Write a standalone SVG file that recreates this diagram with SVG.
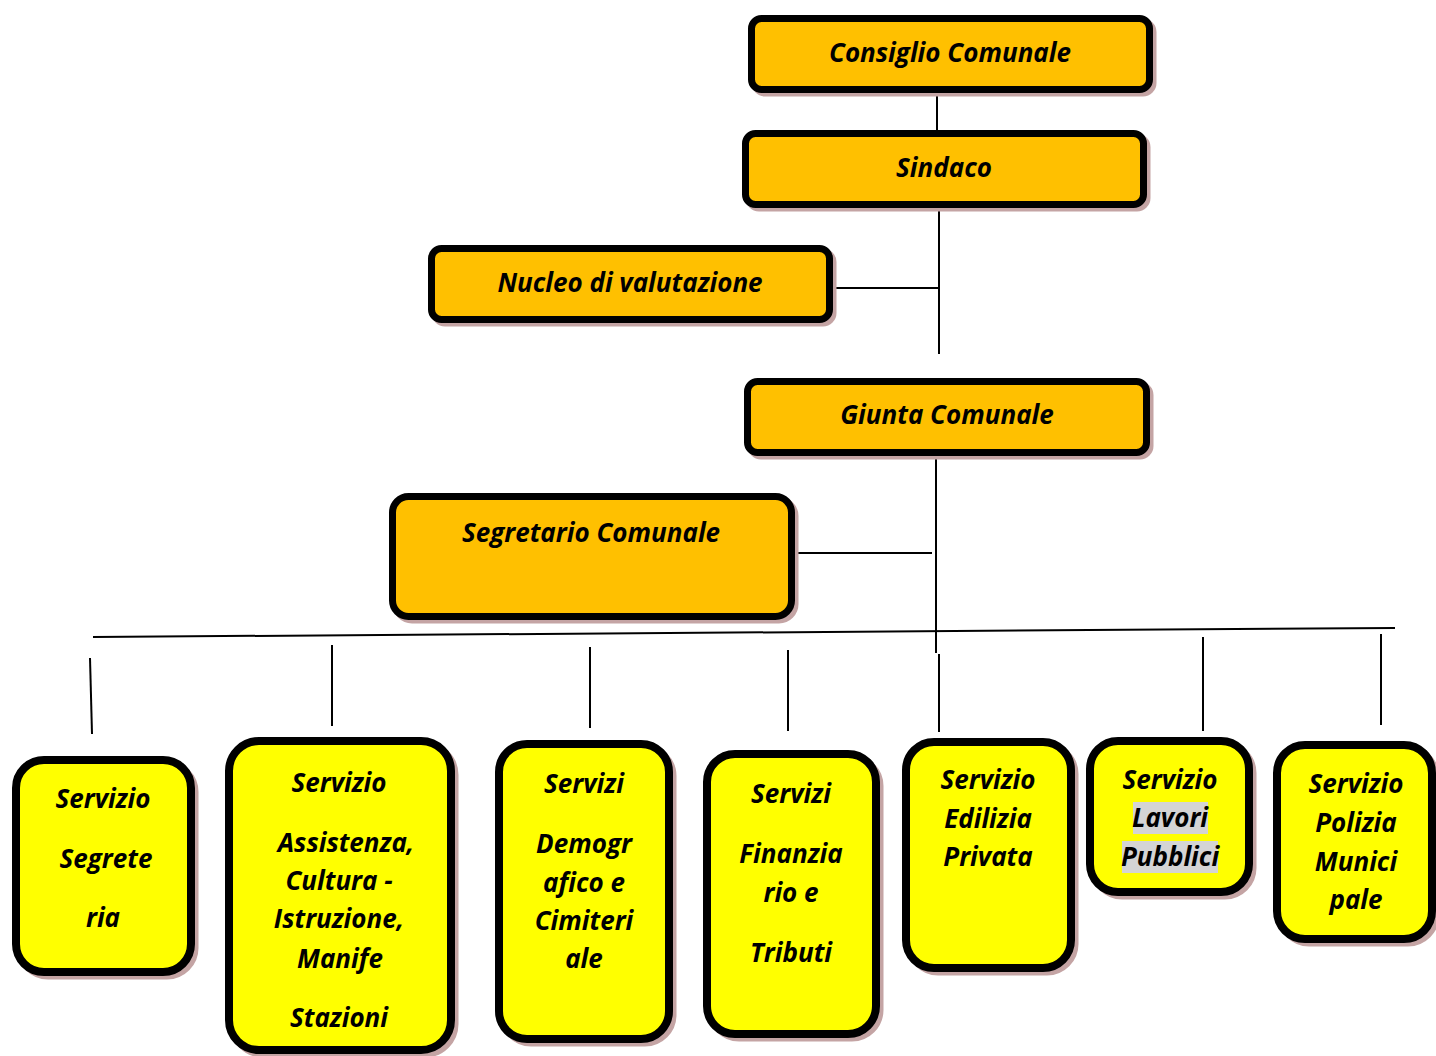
<svg xmlns="http://www.w3.org/2000/svg" width="1436" height="1056" viewBox="0 0 1436 1056">
<style>
.top{fill:#FFC000;stroke:#000;stroke-width:7}
.bot{fill:#FFFF00;stroke:#000;stroke-width:8}
.sh{fill:#c4a4a4;stroke:#c4a4a4;stroke-width:7}
.t{font-family:"Open Sans",Lato,"Liberation Sans",sans-serif;font-weight:bold;font-style:italic;font-size:26px;fill:#000;text-anchor:middle}
.hl{fill:#d4d4d4}
.c line{stroke:#000;stroke-width:2}
</style>
<rect width="1436" height="1056" fill="#fff"/>
<g class="c" id="connectors">
<line x1="937" y1="84" x2="937" y2="131"/>
<line x1="939" y1="206" x2="939" y2="354"/>
<line x1="833" y1="288" x2="939" y2="288"/>
<line x1="936" y1="450" x2="936" y2="653"/>
<line x1="788" y1="553" x2="932" y2="553"/>
<line x1="93" y1="637" x2="1395" y2="628"/>
<line x1="90" y1="658" x2="92" y2="734"/>
<line x1="332" y1="645" x2="332" y2="726"/>
<line x1="590" y1="647" x2="590" y2="728"/>
<line x1="788" y1="650" x2="788" y2="731"/>
<line x1="939" y1="654" x2="939" y2="732"/>
<line x1="1203" y1="637" x2="1203" y2="731"/>
<line x1="1381" y1="634" x2="1381" y2="725"/>
</g>
<g id="consiglio">
<rect class="sh" x="755" y="22" width="398" height="71" rx="10"/>
<rect class="top" x="751.5" y="18.5" width="398" height="71" rx="10"/>
<text class="t" x="950" y="62">Consiglio Comunale</text>
</g>
<g id="sindaco">
<rect class="sh" x="749" y="137" width="398" height="71" rx="10"/>
<rect class="top" x="745.5" y="133.5" width="398" height="71" rx="10"/>
<text class="t" x="944" y="177">Sindaco</text>
</g>
<g id="nucleo">
<rect class="sh" x="435" y="252" width="398" height="71" rx="10"/>
<rect class="top" x="431.5" y="248.5" width="398" height="71" rx="10"/>
<text class="t" x="630" y="292">Nucleo di valutazione</text>
</g>
<g id="giunta">
<rect class="sh" x="751" y="385" width="399" height="71" rx="10"/>
<rect class="top" x="747.5" y="381.5" width="399" height="71" rx="10"/>
<text class="t" x="947" y="424">Giunta Comunale</text>
</g>
<g id="segretario">
<rect class="sh" x="396" y="500" width="399" height="120" rx="16"/>
<rect class="top" x="392.5" y="496.5" width="399" height="120" rx="16"/>
<text class="t" x="591" y="542">Segretario Comunale</text>
</g>
<g id="segreteria">
<rect class="sh" x="20" y="764" width="175" height="212" rx="28"/>
<rect class="bot" x="16" y="760" width="175" height="212" rx="28"/>
<text class="t" x="103" y="808">Servizio</text>
<text class="t" x="106" y="868">Segrete</text>
<text class="t" x="103" y="927">ria</text>
</g>
<g id="assistenza">
<rect class="sh" x="233" y="745" width="222" height="309" rx="30"/>
<rect class="bot" x="229" y="741" width="222" height="309" rx="30"/>
<text class="t" x="339" y="792">Servizio</text>
<text class="t" x="346" y="852">Assistenza,</text>
<text class="t" x="339" y="890">Cultura -</text>
<text class="t" x="339" y="928">Istruzione,</text>
<text class="t" x="340" y="968">Manife</text>
<text class="t" x="339" y="1027">Stazioni</text>
</g>
<g id="demografici">
<rect class="sh" x="503" y="748" width="170" height="295" rx="28"/>
<rect class="bot" x="499" y="744" width="170" height="295" rx="28"/>
<text class="t" x="584" y="793">Servizi</text>
<text class="t" x="584" y="853">Demogr</text>
<text class="t" x="584" y="892">afico e</text>
<text class="t" x="584" y="930">Cimiteri</text>
<text class="t" x="584" y="968">ale</text>
</g>
<g id="finanziario">
<rect class="sh" x="711" y="758" width="169" height="280" rx="28"/>
<rect class="bot" x="707" y="754" width="169" height="280" rx="28"/>
<text class="t" x="791" y="803">Servizi</text>
<text class="t" x="791" y="863">Finanzia</text>
<text class="t" x="791" y="902">rio e</text>
<text class="t" x="791" y="962">Tributi</text>
</g>
<g id="edilizia">
<rect class="sh" x="910" y="746" width="165" height="226" rx="28"/>
<rect class="bot" x="906" y="742" width="165" height="226" rx="28"/>
<text class="t" x="988" y="789">Servizio</text>
<text class="t" x="988" y="828">Edilizia</text>
<text class="t" x="988" y="866">Privata</text>
</g>
<g id="lavori">
<rect class="sh" x="1094" y="745" width="159" height="151" rx="28"/>
<rect class="bot" x="1090" y="741" width="159" height="151" rx="28"/>
<rect class="hl" x="1133" y="802" width="75" height="32"/>
<rect class="hl" x="1122" y="841" width="96" height="32"/>
<text class="t" x="1170" y="789">Servizio</text>
<text class="t" x="1170" y="827">Lavori</text>
<text class="t" x="1170" y="866">Pubblici</text>
</g>
<g id="polizia">
<rect class="sh" x="1281" y="749" width="155" height="194" rx="28"/>
<rect class="bot" x="1277" y="745" width="155" height="194" rx="28"/>
<text class="t" x="1356" y="793">Servizio</text>
<text class="t" x="1356" y="832">Polizia</text>
<text class="t" x="1356" y="871">Munici</text>
<text class="t" x="1356" y="909">pale</text>
</g>
</svg>
